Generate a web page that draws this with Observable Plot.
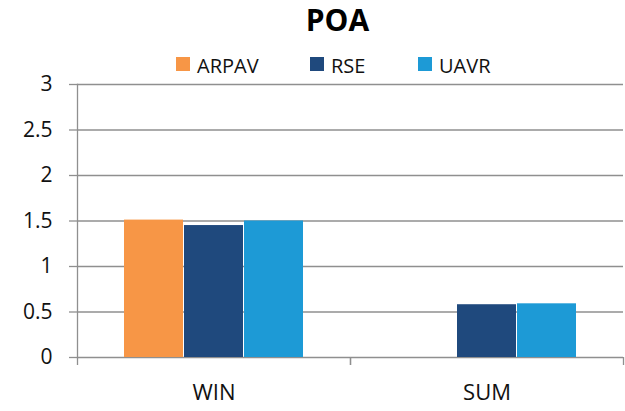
<!DOCTYPE html>
<html>
<head>
<meta charset="utf-8">
<script src="https://cdn.jsdelivr.net/npm/d3@7"></script>
<script src="https://cdn.jsdelivr.net/npm/@observablehq/plot@0.6"></script>
<style>
  body { margin: 0; background: #fff; font-family: "Open Sans", sans-serif; }
  #wrap { position: relative; width: 625px; height: 411px; overflow: hidden; }
  #title { position: absolute; left: 50px; top: 0; width: 575px; height: 40px; line-height: 40px; text-align: center; font-weight: bold; font-size: 30px; color: #000; }
  #legend { position: absolute; left: 0; top: 40px; width: 625px; height: 38px; }
  .sw { position: absolute; width: 14px; height: 14px; top: 17px; }
  .lt { position: absolute; top: 16px; font-size: 20px; line-height: 20px; color: #111; white-space: nowrap; }
  #chart { position: absolute; left: 0; top: 78px; }
</style>
</head>
<body>
<div id="wrap">
  <div id="title"></div>
  <div id="legend"></div>
  <div id="chart"></div>
</div>
<script>
const chartTitle = "POA";
const seasons = ["WIN", "SUM"];
const sources = ["ARPAV", "RSE", "UAVR"];
const colors = ["#F79646", "#1F497D", "#1D9AD6"];
const valuesWIN = [1.51, 1.45, 1.50];
const valuesSUM = [null, 0.58, 0.59];
const yTicks = [0, 0.5, 1, 1.5, 2, 2.5, 3];

const seriesBySeason = {WIN: valuesWIN, SUM: valuesSUM};
const data = [];
seasons.forEach(s => sources.forEach((src, i) => {
  const v = seriesBySeason[s][i];
  if (v != null) data.push({season: s, source: src, value: v});
}));

document.getElementById("title").textContent = chartTitle;

// legend (HTML, above the plot)
const legendSwatchX = [176, 310, 418];
const legend = document.getElementById("legend");
sources.forEach((src, i) => {
  const sw = document.createElement("div");
  sw.className = "sw";
  sw.style.left = legendSwatchX[i] + "px";
  sw.style.background = colors[i];
  legend.appendChild(sw);
  const t = document.createElement("div");
  t.className = "lt";
  t.style.left = (legendSwatchX[i] + 21) + "px";
  t.textContent = src;
  legend.appendChild(t);
});

const W = 625, mL = 77, mR = 2;
const facetW = (W - mL - mR) / seasons.length;
const gridColor = "#8f8f8f";

const plot = Plot.plot({
  width: W,
  height: 333,
  marginLeft: mL,
  marginRight: mR,
  marginTop: 6,
  marginBottom: 54,
  style: {fontFamily: "Open Sans, sans-serif", background: "#fff", overflow: "visible"},
  fx: {domain: seasons, padding: 0, axis: null, label: null},
  x: {domain: sources, paddingInner: 0.016, paddingOuter: 0.746, align: 0.5, axis: null, label: null},
  y: {domain: [0, 3], axis: null, label: null},
  color: {domain: sources, range: colors},
  marks: [
    Plot.gridY(yTicks, {stroke: gridColor, strokeOpacity: 1, strokeWidth: 1.3}),
    Plot.frame({anchor: "left", facetAnchor: "left", stroke: gridColor, strokeWidth: 1.3}),
    Plot.axisY(yTicks, {
      tickSize: 8, tickPadding: 17, fontSize: 21,
      stroke: gridColor, strokeWidth: 1.3, fill: "#111",
      tickFormat: d => String(d)
    }),
    Plot.barY(data, {fx: "season", x: "source", y: "value", fill: "source"}),
    Plot.axisFx({anchor: "bottom", tickSize: 8, text: null, dx: -facetW / 2, stroke: gridColor, strokeWidth: 1.3, label: null}),
    Plot.axisFx({anchor: "bottom", tickSize: 8, text: null, dx: facetW / 2, stroke: gridColor, strokeWidth: 1.3, label: null}),
    Plot.axisFx({anchor: "bottom", tickSize: 0, tickPadding: 27, fontSize: 22, fill: "#111", label: null})
  ]
});
document.getElementById("chart").appendChild(plot);
</script>
</body>
</html>
